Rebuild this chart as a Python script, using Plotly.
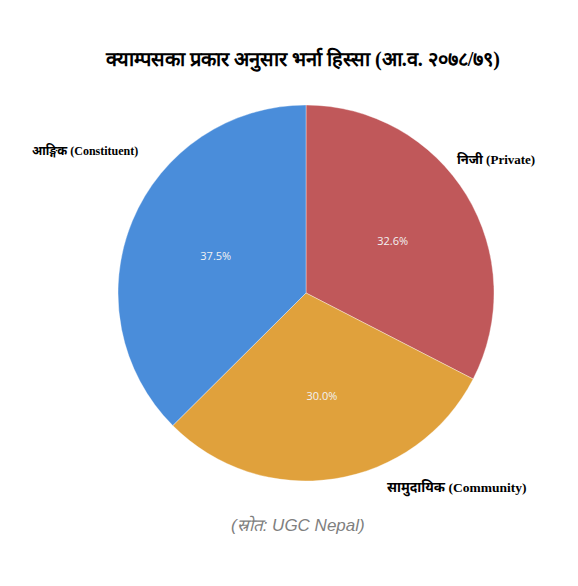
import plotly.graph_objects as go

labels = ["निजी (Private)", "सामुदायिक (Community)", "आङ्गिक (Constituent)"]
values = [32.6, 30.0, 37.5]
colors = ["#C0585A", "#E0A13C", "#4A8DDA"]

W, H = 578, 586
OFF = 8  # page body margin
cx, cy, r = 306 - OFF, 293 - OFF, 188


def px(x):
    return (x - OFF) / W


def py(y):
    return 1 - (y - OFF) / H


fig = go.Figure()
fig.add_trace(go.Pie(
    labels=labels,
    values=values,
    sort=False,
    direction="clockwise",
    rotation=0,
    marker=dict(colors=colors, line=dict(color="rgba(255,255,255,0.6)", width=0.6)),
    texttemplate="%{percent:.1%}",
    textposition="inside",
    insidetextorientation="horizontal",
    insidetextfont=dict(color="#F2F2F2", size=11, family="Open Sans, sans-serif"),
    hoverinfo="label+percent",
    showlegend=False,
    domain=dict(x=[(cx - r) / W, (cx + r) / W], y=[(H - cy - r) / H, (H - cy + r) / H]),
))

serif = "Liberation Serif, Noto Sans, serif"
fig.add_annotation(text="<b>" + labels[0] + "</b>", x=px(455), y=py(160), xref="paper", yref="paper",
                   xanchor="left", yanchor="middle", showarrow=False,
                   font=dict(family=serif, size=13, color="#000000"))
fig.add_annotation(text="<b>" + labels[1] + "</b>", x=px(385), y=py(488), xref="paper", yref="paper",
                   xanchor="left", yanchor="middle", showarrow=False,
                   font=dict(family=serif, size=13.5, color="#000000"))
fig.add_annotation(text="<b>" + labels[2] + "</b>", x=px(30), y=py(150), xref="paper", yref="paper",
                   xanchor="left", yanchor="middle", showarrow=False,
                   font=dict(family=serif, size=12, color="#000000"))

fig.add_annotation(text="<b>क्याम्पसका प्रकार अनुसार भर्ना हिस्सा (आ.व. २०७८/७९)</b>",
                   x=px(302), y=py(60), xref="paper", yref="paper", xanchor="center", yanchor="middle",
                   showarrow=False, font=dict(family="Liberation Serif, serif", size=20, color="#000000"))
fig.add_annotation(text="<i>(स्रोत: UGC Nepal)</i>",
                   x=px(298), y=py(525), xref="paper", yref="paper", xanchor="center", yanchor="middle",
                   showarrow=False, font=dict(family="Liberation Sans, Arial, sans-serif", size=17, color="#7F7F7F"))

fig.update_layout(
    width=W, height=H,
    margin=dict(l=0, r=0, t=0, b=0),
    paper_bgcolor="white", plot_bgcolor="white",
)
fig.write_html("out.html")
